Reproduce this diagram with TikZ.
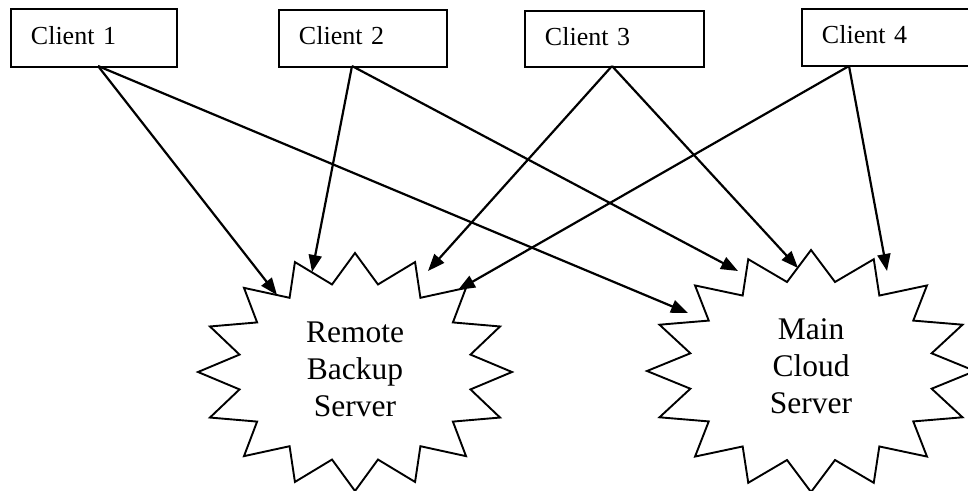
\documentclass[tikz,border=0pt]{standalone}
\usepackage{fontspec}
\setmainfont{Liberation Serif}
\usetikzlibrary{arrows.meta}
\newcommand\mystarpath[4]{%
  \draw[starline] plot[samples at={0,...,31}, variable=\t]
    ({#1+(1-0.25*mod(\t,2))*#3*cos(90+\t*11.25)},{#2+(1-0.25*mod(\t,2))*#4*sin(90+\t*11.25)}) -- cycle;}
\begin{document}
\begin{tikzpicture}[x=1pt,y=-1pt,
  clientbox/.style={draw, line width=1.9pt, anchor=north west, inner ysep=0pt, inner xsep=20pt,
     align=left, text depth=5pt, font=\fontsize{26}{31}\selectfont},
  starline/.style={draw, line width=1.9pt, line join=miter},
  srv/.style={align=center, inner sep=0pt, font=\fontsize{31.5}{37}\selectfont},
  arr/.style={line width=2.2pt, -{Triangle[length=17pt,width=13pt]}}]
\useasboundingbox (0,0) rectangle (968,490);

% client boxes
\node[clientbox, minimum width=166pt, minimum height=58pt, text width=126pt] (c1) at (10,8) {Client 1};
\node[clientbox, minimum width=168pt, minimum height=57pt, text width=128pt] (c2) at (278,9) {Client 2};
\node[clientbox, minimum width=179pt, minimum height=56pt, text width=139pt] (c3) at (524,10) {Client 3};
\node[clientbox, minimum width=176pt, minimum height=57pt, text width=136pt] (c4) at (801,8) {Client 4};

% starbursts
\mystarpath{355}{372}{157}{119}
\mystarpath{811}{371}{164}{121}
\node[srv] (rb) at (355,369.5) {Remote\\Backup\\Server};
\node[srv] (mc) at (811,366.5) {Main\\Cloud\\Server};

% connector ends
\coordinate (s1) at (98,66);
\coordinate (s2) at (352,66);
\coordinate (s3) at (612,66);
\coordinate (s4) at (849,66);
\coordinate (r1) at (277,295);
\coordinate (r2) at (312,272);
\coordinate (r3) at (428,271);
\coordinate (r4) at (458,290);
\coordinate (m1) at (688,313);
\coordinate (m2) at (738,271);
\coordinate (m3) at (798,268);
\coordinate (m4) at (887,271);

\draw[arr] (s1) -- (r1);
\draw[arr] (s1) -- (m1);
\draw[arr] (s2) -- (r2);
\draw[arr] (s2) -- (m2);
\draw[arr] (s3) -- (r3);
\draw[arr] (s3) -- (m3);
\draw[arr] (s4) -- (r4);
\draw[arr] (s4) -- (m4);
\end{tikzpicture}
\end{document}
